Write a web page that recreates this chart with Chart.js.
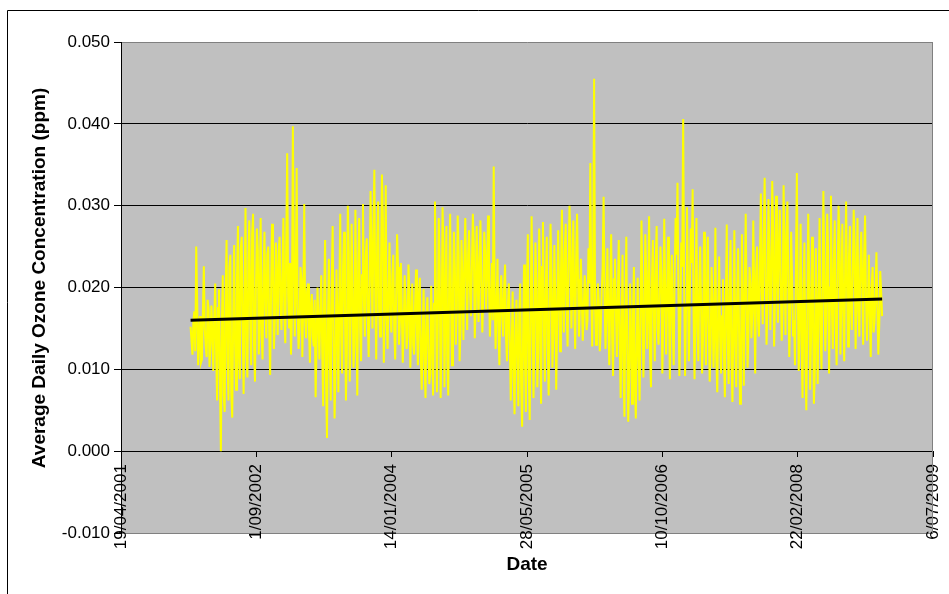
<!DOCTYPE html>
<html>
<head>
<meta charset="utf-8">
<script src="https://cdn.jsdelivr.net/npm/chart.js@4.4.1/dist/chart.umd.min.js"></script>
<style>
  html, body { margin: 0; padding: 0; background: #fff; }
  #wrap { width: 949px; height: 594px; }
</style>
</head>
<body>
<div id="wrap"><canvas id="ozone" width="949" height="594"></canvas></div>
<script>
// readings (ppm) every stepDays days, first one on startDate
var startDate = "2002-01-01";
var stepDays = 7;
var ozone = [
  0.0152, 0.0118, 0.0171, 0.0250, 0.0105, 0.0165, 0.0112, 0.0226, 0.0128, 0.0185, 0.0103, 0.0178, 0.0098,
  0.0205, 0.0062, 0.0198, 0.0000, 0.0215,
  0.0048, 0.0258, 0.0062, 0.0240, 0.0041, 0.0252,
  0.0075, 0.0275, 0.0088, 0.0262, 0.0070, 0.0297, 0.0090,
  0.0282, 0.0105, 0.0290, 0.0085, 0.0272, 0.0118, 0.0285,
  0.0112, 0.0268, 0.0138, 0.0250, 0.0093, 0.0278, 0.0125, 0.0255, 0.0142, 0.0262,
  0.0148, 0.0285, 0.0132, 0.0364, 0.0150,
  0.0118, 0.0397, 0.0140, 0.0346,
  0.0125, 0.0225, 0.0115, 0.0302, 0.0138,
  0.0205, 0.0108, 0.0192, 0.0128, 0.0066, 0.0200, 0.0112,
  0.0215, 0.0055, 0.0258, 0.0016, 0.0235, 0.0062, 0.0275, 0.0040, 0.0222,
  0.0072, 0.0290, 0.0095, 0.0268, 0.0062, 0.0300, 0.0085, 0.0278, 0.0102, 0.0295, 0.0068, 0.0285,
  0.0110, 0.0302, 0.0140, 0.0260, 0.0115,
  0.0318, 0.0150, 0.0344, 0.0112, 0.0305, 0.0140, 0.0338, 0.0108, 0.0325,
  0.0125, 0.0255, 0.0145, 0.0240, 0.0112, 0.0265, 0.0130,
  0.0230, 0.0108, 0.0215, 0.0125, 0.0228, 0.0102, 0.0205, 0.0118, 0.0222, 0.0105, 0.0212,
  0.0075, 0.0198, 0.0065, 0.0188, 0.0082, 0.0202, 0.0068,
  0.0305, 0.0072, 0.0285, 0.0065, 0.0298, 0.0078, 0.0275, 0.0068, 0.0290,
  0.0105, 0.0268, 0.0130, 0.0288, 0.0110, 0.0258, 0.0136,
  0.0285, 0.0148, 0.0270, 0.0165, 0.0290, 0.0138, 0.0275, 0.0158, 0.0282, 0.0145, 0.0268, 0.0172, 0.0288, 0.0140,
  0.0230, 0.0348,
  0.0125, 0.0235, 0.0105, 0.0215, 0.0140, 0.0228, 0.0110, 0.0205,
  0.0062, 0.0195, 0.0045, 0.0185, 0.0055, 0.0205, 0.0030, 0.0228, 0.0048, 0.0265, 0.0038,
  0.0287, 0.0065, 0.0255, 0.0078, 0.0272, 0.0058, 0.0280, 0.0085,
  0.0262, 0.0068, 0.0278, 0.0102, 0.0252, 0.0075, 0.0270,
  0.0122, 0.0295, 0.0145, 0.0278, 0.0128, 0.0300, 0.0150, 0.0282, 0.0125, 0.0290, 0.0140,
  0.0235, 0.0135, 0.0215, 0.0148, 0.0248, 0.0352, 0.0128, 0.0455,
  0.0130, 0.0205, 0.0122, 0.0195, 0.0311, 0.0125,
  0.0248, 0.0105, 0.0265, 0.0092, 0.0235, 0.0115, 0.0258,
  0.0065, 0.0240, 0.0042, 0.0262, 0.0036, 0.0205, 0.0058, 0.0225, 0.0040, 0.0212,
  0.0062, 0.0282, 0.0090, 0.0265, 0.0125, 0.0287, 0.0078, 0.0258, 0.0110, 0.0275, 0.0130, 0.0250, 0.0095, 0.0284, 0.0118,
  0.0262, 0.0088, 0.0240, 0.0105, 0.0285, 0.0328, 0.0092, 0.0255, 0.0406,
  0.0092, 0.0298, 0.0110, 0.0272, 0.0320,
  0.0088, 0.0285, 0.0110, 0.0250, 0.0095, 0.0268, 0.0105,
  0.0262, 0.0085, 0.0225, 0.0102, 0.0273, 0.0072, 0.0238, 0.0095, 0.0210,
  0.0066, 0.0277, 0.0082, 0.0258, 0.0060, 0.0270, 0.0078, 0.0248, 0.0058, 0.0265, 0.0080,
  0.0290, 0.0102, 0.0225, 0.0138, 0.0282, 0.0095, 0.0250,
  0.0140, 0.0315, 0.0155, 0.0334, 0.0130, 0.0308, 0.0148, 0.0330, 0.0128, 0.0312, 0.0157, 0.0295, 0.0135, 0.0325, 0.0142, 0.0305,
  0.0115, 0.0268, 0.0140, 0.0105, 0.0340,
  0.0098, 0.0278, 0.0065, 0.0255, 0.0050, 0.0290, 0.0075, 0.0262, 0.0058, 0.0248, 0.0082, 0.0285,
  0.0100, 0.0318, 0.0122, 0.0290, 0.0095, 0.0312, 0.0125, 0.0282, 0.0105, 0.0300, 0.0118, 0.0278, 0.0110,
  0.0305, 0.0128, 0.0275, 0.0148, 0.0295, 0.0125, 0.0285, 0.0140, 0.0268, 0.0130, 0.0288,
  0.0135, 0.0240, 0.0115, 0.0225, 0.0158, 0.0243, 0.0118, 0.0220, 0.0165
];
// readings half a step later (between ozone[i] and ozone[i + 1])
var ozoneMidweek = [
  0.0135, 0.0160, 0.0122, 0.0182, 0.0140, 0.0108, 0.0168, 0.0150, 0.0115, 0.0175, 0.0130, 0.0145, 0.0160,
  0.0120, 0.0175, 0.0085, 0.0150, 0.0068,
  0.0190, 0.0110, 0.0225, 0.0070, 0.0160, 0.0132,
  0.0210, 0.0120, 0.0248, 0.0155, 0.0190, 0.0118, 0.0235,
  0.0160, 0.0265, 0.0130, 0.0200, 0.0245, 0.0175, 0.0140,
  0.0215, 0.0175, 0.0240, 0.0150, 0.0195, 0.0230, 0.0162, 0.0205, 0.0245, 0.0180,
  0.0220, 0.0170, 0.0255, 0.0190, 0.0230, 0.0165, 0.0245, 0.0200, 0.0175, 0.0150, 0.0210, 0.0185, 0.0162, 0.0195,
  0.0150, 0.0178, 0.0140, 0.0185, 0.0130, 0.0160, 0.0172,
  0.0120, 0.0190, 0.0085, 0.0160, 0.0110, 0.0205, 0.0140, 0.0100, 0.0165,
  0.0185, 0.0140, 0.0225, 0.0170, 0.0120, 0.0245, 0.0160, 0.0205, 0.0130, 0.0180, 0.0230, 0.0150,
  0.0215, 0.0185, 0.0240, 0.0165, 0.0200,
  0.0235, 0.0270, 0.0190, 0.0250, 0.0175, 0.0220, 0.0285, 0.0200, 0.0160,
  0.0200, 0.0170, 0.0215, 0.0150, 0.0190, 0.0225, 0.0160,
  0.0170, 0.0150, 0.0185, 0.0140, 0.0195, 0.0160, 0.0130, 0.0178, 0.0145, 0.0190, 0.0120,
  0.0140, 0.0110, 0.0160, 0.0125, 0.0095, 0.0150, 0.0180,
  0.0190, 0.0160, 0.0220, 0.0135, 0.0250, 0.0170, 0.0115, 0.0210, 0.0180,
  0.0195, 0.0225, 0.0170, 0.0240, 0.0150, 0.0205, 0.0230,
  0.0210, 0.0240, 0.0195, 0.0225, 0.0250, 0.0180, 0.0215, 0.0235, 0.0200, 0.0190, 0.0245, 0.0220, 0.0205, 0.0185,
  0.0160, 0.0195, 0.0175, 0.0150, 0.0190, 0.0165, 0.0200, 0.0140, 0.0178, 0.0130,
  0.0125, 0.0090, 0.0150, 0.0105, 0.0170, 0.0080, 0.0140, 0.0110, 0.0185, 0.0095, 0.0160,
  0.0175, 0.0140, 0.0210, 0.0120, 0.0190, 0.0225, 0.0150, 0.0200, 0.0130, 0.0170, 0.0215, 0.0145, 0.0185, 0.0160, 0.0195,
  0.0215, 0.0190, 0.0245, 0.0175, 0.0225, 0.0260, 0.0200, 0.0185, 0.0235, 0.0210, 0.0180,
  0.0185, 0.0170, 0.0200, 0.0160, 0.0205, 0.0195, 0.0230, 0.0175, 0.0160, 0.0180, 0.0150, 0.0225, 0.0190, 0.0170,
  0.0160, 0.0195, 0.0140, 0.0210, 0.0170, 0.0185, 0.0135,
  0.0150, 0.0100, 0.0175, 0.0120, 0.0090, 0.0140, 0.0165, 0.0085, 0.0130, 0.0115,
  0.0160, 0.0195, 0.0140, 0.0220, 0.0180, 0.0120, 0.0205, 0.0170, 0.0230, 0.0150, 0.0190, 0.0215, 0.0165, 0.0200, 0.0185,
  0.0170, 0.0200, 0.0150, 0.0215, 0.0240, 0.0190, 0.0160, 0.0225, 0.0205, 0.0175, 0.0210, 0.0190, 0.0230, 0.0165,
  0.0185, 0.0150, 0.0205, 0.0170, 0.0140, 0.0195, 0.0180,
  0.0160, 0.0130, 0.0185, 0.0150, 0.0115, 0.0175, 0.0140, 0.0165, 0.0120,
  0.0175, 0.0140, 0.0195, 0.0110, 0.0160, 0.0130, 0.0185, 0.0145, 0.0100, 0.0170, 0.0200,
  0.0180, 0.0150, 0.0205, 0.0170, 0.0190, 0.0215, 0.0160,
  0.0230, 0.0195, 0.0260, 0.0215, 0.0180, 0.0245, 0.0200, 0.0270, 0.0190, 0.0225, 0.0250, 0.0210, 0.0175, 0.0235, 0.0265, 0.0205,
  0.0180, 0.0210, 0.0160, 0.0225, 0.0190,
  0.0170, 0.0130, 0.0200, 0.0110, 0.0155, 0.0215, 0.0140, 0.0180, 0.0100, 0.0165, 0.0195, 0.0150,
  0.0185, 0.0220, 0.0160, 0.0245, 0.0200, 0.0175, 0.0230, 0.0150, 0.0210, 0.0260, 0.0190, 0.0170, 0.0225,
  0.0200, 0.0235, 0.0180, 0.0215, 0.0250, 0.0195, 0.0170, 0.0225, 0.0205, 0.0240, 0.0185,
  0.0180, 0.0165, 0.0200, 0.0145, 0.0190, 0.0175, 0.0155, 0.0195
];
// linear trend: value at first and last reading
var trendValues = [0.0160, 0.0186];

var xAxisStart = "2001-04-19";
var xStepDays = 500;
var xTickLabels = ["19/04/2001", "1/09/2002", "14/01/2004", "28/05/2005", "10/10/2006", "22/02/2008", "6/07/2009"];
var yMin = -0.01, yMax = 0.05, yStep = 0.01;
var yTitle = 'Average Daily Ozone Concentration (ppm)';

function dayNum(s) { return Math.round(Date.parse(s + "T00:00:00Z") / 86400000); }

var day0 = dayNum(startDate);
var axisMin = dayNum(xAxisStart);
var axisMax = axisMin + xStepDays * (xTickLabels.length - 1);

var ozonePts = [];
ozone.forEach(function (v, i) {
  ozonePts.push({ x: day0 + i * stepDays, y: v });
  if (i < ozoneMidweek.length) ozonePts.push({ x: day0 + (i + 0.5) * stepDays, y: ozoneMidweek[i] });
});
var trendPts = [
  { x: day0, y: trendValues[0] },
  { x: day0 + (ozone.length - 1) * stepDays, y: trendValues[1] }
];

var FONT = "'Liberation Sans', Arial, sans-serif";

var plotBg = {
  id: 'plotBg',
  beforeDraw: function (chart) {
    var c = chart.ctx, a = chart.chartArea;
    c.save();
    c.fillStyle = '#fff';
    c.fillRect(0, 0, chart.width, chart.height);
    c.strokeStyle = '#000';
    c.lineWidth = 1;
    c.beginPath();
    c.moveTo(7.5, chart.height + 5);
    c.lineTo(7.5, 10.5);
    c.lineTo(chart.width + 5, 10.5);
    c.stroke();
    c.fillStyle = '#C0C0C0';
    c.fillRect(a.left, a.top, a.right - a.left, a.bottom - a.top);
    c.restore();
  },
  afterDraw: function (chart) {
    var c = chart.ctx, a = chart.chartArea;
    c.save();
    c.strokeStyle = '#808080';
    c.lineWidth = 1;
    c.beginPath();
    c.moveTo(Math.round(a.right) - 0.5, a.top);
    c.lineTo(Math.round(a.right) - 0.5, a.bottom);
    c.stroke();
    // y axis title, placed as in the original sheet
    c.translate(40, 278);
    c.rotate(-Math.PI / 2);
    c.fillStyle = '#000';
    c.font = 'bold 19px ' + FONT;
    c.textAlign = 'center';
    c.textBaseline = 'middle';
    c.fillText(yTitle, 0, 0);
    c.restore();
  }
};

function isEdge(v) { return Math.abs(v - yMin) < 1e-9 || Math.abs(v - yMax) < 1e-9; }

new Chart(document.getElementById("ozone"), {
  type: 'line',
  data: {
    datasets: [{
      label: "Trend",
      data: trendPts,
      borderColor: "#000000",
      borderWidth: 3,
      pointRadius: 0,
      tension: 0,
      fill: false
    }, {
      label: "Ozone",
      data: ozonePts,
      borderColor: "#FFFF00",
      borderWidth: 2,
      pointRadius: 0,
      tension: 0,
      fill: false
    }]
  },
  options: {
    responsive: false,
    animation: false,
    layout: { padding: { left: 0, top: 42, right: 16, bottom: 61 } },
    plugins: { legend: { display: false }, tooltip: { enabled: false } },
    scales: {
      x: {
        type: 'linear',
        position: { y: 0 },
        min: axisMin,
        max: axisMax,
        afterFit: function (s) { s.paddingLeft = 0; s.paddingRight = 0; },
        grid: { drawOnChartArea: false, drawTicks: true, tickLength: 5, color: '#000' },
        border: { color: '#000', width: 1 },
        ticks: {
          stepSize: xStepDays,
          autoSkip: false,
          minRotation: 90,
          maxRotation: 90,
          padding: 8,
          color: '#000',
          font: { family: FONT, size: 17 },
          callback: function (v) { return xTickLabels[Math.round((v - axisMin) / xStepDays)]; }
        },
        title: {
          display: true,
          text: 'Date',
          color: '#000',
          font: { family: FONT, size: 19, weight: 'bold' },
          padding: { top: -4, bottom: 4 }
        }
      },
      y: {
        min: yMin,
        max: yMax,
        afterFit: function (s) { s.width = 121; },
        grid: {
          color: function (ctx) { return ctx.tick && isEdge(ctx.tick.value) ? '#808080' : '#000'; },
          tickColor: '#000',
          tickLength: 7
        },
        border: { color: '#000', width: 1 },
        ticks: {
          stepSize: yStep,
          padding: 4,
          color: '#000',
          font: { family: FONT, size: 17 },
          callback: function (v) { return (Math.abs(v) < 1e-9 ? 0 : v).toFixed(3); }
        },
        title: { display: false }
      }
    }
  },
  plugins: [plotBg]
});
</script>
</body>
</html>
